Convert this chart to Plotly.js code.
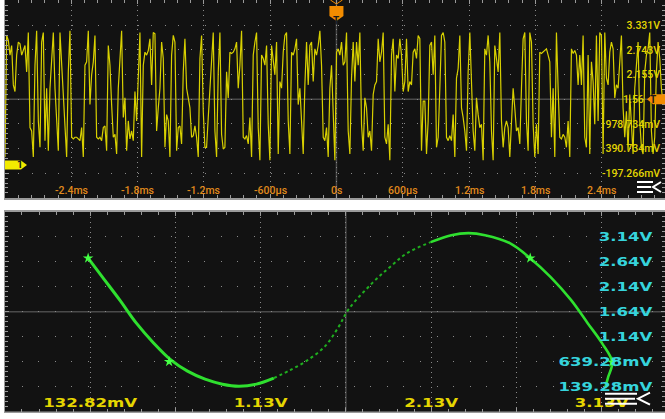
<!DOCTYPE html>
<html><head><meta charset="utf-8">
<script src="https://cdn.plot.ly/plotly-3.0.1.min.js"></script>
<style>html,body{margin:0;padding:0;background:#fff;overflow:hidden}#chart{width:665px;height:419px}</style>
</head><body><div id="chart"></div>
<script>
// ---------- Channel 1 (yellow) time trace, volts, uniformly sampled ----------
const sampleStartUs = -3000;
const sampleStepUs = 15.08;
const ch1VoltsA = [0.19,3.09,2.97,2.62,2.85,1.91,1.75,2.62,2.93,2.89,
2.62,2.77,2.85,2.22,3.16,0.89,0.81,0.19,2.38,3.20,
1.05,0.42,2.93,3.16,0.58,1.83,0.34,1.83,2.62,3.16,
1.83,0.89,0.34,3.16,2.38,1.83,0.89,0.19,2.22,3.20,
0.66,0.62,0.66,0.66,0.62,0.58,0.89,0.19,2.38,2.46,
3.20,1.44,2.15,2.46,3.09,0.66,0.62,0.66,0.58,0.89,
0.93,0.34,2.85,2.38,1.44,0.66,0.73,0.26,1.83,2.46,
3.20,1.13,1.60,0.34,1.05,0.62,0.81,0.58,1.75,1.05,
1.91,3.16,0.19,2.38,2.69,2.62,2.73,3.01,1.91,3.16,
3.13,0.81,1.36,1.83,2.93,2.54,0.42,1.20,1.05,0.19,
2.62,3.09,2.93];
const ch1VoltsB = [0.34,0.89,0.93,0.50,2.22,3.01,1.83,1.60,1.36,0.66,
0.70,0.93,0.66,0.19,2.54,3.09,1.28,0.42,0.42,1.13,
1.83,2.22,3.16,0.81,0.19,2.22,3.16,0.73,0.38,0.42,
2.22,1.60,2.69,2.66,2.69,2.77,2.93,1.83,2.38,3.20,
0.66,0.62,0.70,0.50,1.13,0.19,2.62,2.93,3.16,0.89,
0.11,2.62,2.54,2.38,2.85,0.97,0.11,2.85,2.46,2.15,
2.93,0.26,1.99,1.83,2.69,3.09,3.16,1.05,0.26,2.69,
2.62,2.77,3.01,1.44,1.83,0.89,0.26,1.91,2.93,1.91,
2.85,2.93,1.99,2.77,2.62,2.85,3.20,2.38,0.66,0.58,
0.89,0.19,1.83,2.38,1.05,0.11,2.69,2.77,2.62];
const ch1VoltsC = [2.93,2.38,2.46,3.16,0.81,0.26,2.07,2.93,1.99,2.93,
2.38,3.16,0.97,0.34,1.60,1.36,0.66,0.81,0.34,1.68,
1.91,1.99,3.01,2.46,2.69,3.16,0.66,0.50,0.97,0.11,
2.62,3.01,1.75,2.62,2.54,3.01,2.62,1.75,1.99,3.01,
1.75,1.99,1.91,2.69,2.77,2.54,3.09,3.01,0.34,1.52,
1.52,0.26,1.05,2.85,2.93,2.15,3.09,0.42,0.66,1.83,
3.09,3.16,2.93,0.66,0.58,0.70,0.58,1.20,0.19,2.07,
2.30,3.09,1.36,1.13,0.81,0.34,2.22,3.16,1.83,0.81,
0.34,1.60,1.20,0.89,0.97,0.11,2.77,2.62,3.09,2.46,
0.81,0.11,2.85,2.54,2.22,3.16,1.05,0.42,0.89];
const ch1VoltsD = [1.05,0.89,0.19,1.05,1.83,1.36,0.81,0.89,0.50,1.83,
3.01,3.16,1.05,0.34,3.16,2.93,0.97,0.19,0.97,0.26,
2.69,2.66,2.69,2.73,2.77,2.62,2.46,0.66,1.83,0.19,
3.16,1.83,0.66,0.62,0.73,0.66,0.42,1.05,0.19,2.77,
2.66,2.73,2.62,1.91,2.62,1.91,3.09,0.66,0.42,2.62,
0.26,2.46,1.99,0.97,3.09,1.05,3.16,3.09,0.26,3.16,
2.07,1.91,2.69,2.93,2.77,1.60,1.91,1.83,2.46,3.09,
1.36,0.66,1.28,0.34,1.68,0.81,0.26,1.83,2.30,2.93,
1.05,0.42,0.26,2.22,2.62,2.77,3.16,0.81,0.26,0.66,
2.22,2.93,2.54,1.83,1.44,1.60];

// ---------- Top panel scale ----------
const timeTickUs = [-2400,-1800,-1200,-600,0,600,1200,1800,2400];
const timeTickText = ['-2.4ms','-1.8ms','-1.2ms','-600µs','0s','600µs','1.2ms','1.8ms','2.4ms'];
const ch1TickVolts = [3.330734,2.742734,2.154734,1.566734,0.978734,0.390734,-0.197266];
const ch1TickText = ['3.331V','2.743V','2.155V','','978.734mV','390.734mV','-197.266mV'];
const triggerLabelText = '1.56';   // visible part of the centre readout, the rest is under the T flag
const triggerTimeUs = 0;
const triggerLevelV = 1.566734;
const ch1GroundV = 0;

// ---------- XY (green) curve, volts ----------
const xyDescX = [0.121,0.205,0.307,0.404,0.506,0.608,0.704,0.807,0.909,1.005,1.108,1.210];
const xyDescY = [2.71,2.33,1.87,1.41,1.01,0.67,0.45,0.29,0.19,0.15,0.19,0.31];
const xyRiseX = [1.210,1.306,1.408,1.511,1.589,1.649,1.787,1.890,1.992,2.130];
const xyRiseY = [0.31,0.47,0.67,0.95,1.33,1.69,2.21,2.53,2.81,3.03];
const xyFallX = [2.130,2.251,2.353,2.449,2.594,2.714,2.834,2.954,3.051,3.135,3.195,3.171,3.153];
const xyFallY = [3.03,3.17,3.21,3.17,3.01,2.71,2.33,1.87,1.41,1.01,0.63,0.33,0.11];
const xyMarkX = [0.121,0.596,2.714,3.195];
const xyMarkY = [2.71,0.64,2.71,0.63];
const xyTickX = [0.13282,0.63282,1.13282,1.63282,2.13282,2.63282,3.13282];
const xyTickXText = ['132.82mV','','1.13V','','2.13V','','3.13V'];
const xyTickY = [3.13928,2.63928,2.13928,1.63928,1.13928,0.63928,0.13928];
const xyTickYText = ['3.14V','2.64V','2.14V','1.64V','1.14V','639.28mV','139.28mV'];
const xyCenterX = 1.63282, xyCenterY = 1.63928;

// ---------- build ----------
const ch1Volts = ch1VoltsA.concat(ch1VoltsB, ch1VoltsC, ch1VoltsD);
const ch1TimeUs = ch1Volts.map((_, i) => sampleStartUs + i * sampleStepUs);

const W = 665, H = 419;
const BG = '#121212';
const EDGE = '#9a9a9a';
const GRID = '#8a8a8a';
const ORANGE = '#f28c00';
const TIMECOL = '#e08a1c';

const traces = [
  {x: ch1TimeUs, y: ch1Volts, xaxis: 'x', yaxis: 'y', type: 'scatter', mode: 'lines',
   line: {color: '#d8d000', width: 1.2}, hoverinfo: 'skip'},
  {x: xyDescX, y: xyDescY, xaxis: 'x2', yaxis: 'y2', type: 'scatter', mode: 'lines',
   line: {color: '#2fe02f', width: 3, shape: 'spline'}, hoverinfo: 'skip'},
  {x: xyRiseX, y: xyRiseY, xaxis: 'x2', yaxis: 'y2', type: 'scatter', mode: 'lines',
   line: {color: '#1fae1f', width: 2, dash: 'dot', shape: 'spline'}, hoverinfo: 'skip'},
  {x: xyFallX, y: xyFallY, xaxis: 'x2', yaxis: 'y2', type: 'scatter', mode: 'lines',
   line: {color: '#2fe02f', width: 2.6, shape: 'spline'}, hoverinfo: 'skip'},
  {x: xyMarkX, y: xyMarkY, xaxis: 'x2', yaxis: 'y2', type: 'scatter', mode: 'markers',
   marker: {symbol: 'star', size: 8, color: '#44ff44', line: {width: 0}}, hoverinfo: 'skip'}
];

function axisCommon() {
  return {
    showline: true, linecolor: EDGE, linewidth: 1.5, mirror: 'ticks',
    ticks: 'inside', ticklen: 4, tickcolor: EDGE, tickwidth: 1,
    showgrid: true, gridcolor: GRID, gridwidth: 1,
    zeroline: false, tickmode: 'array', ticklabelposition: 'inside',
    ticklabeloverflow: 'allow', fixedrange: true
  };
}

const topBottomPx = 198, botTopPx = 211.7, botBottomPx = 411.7;
const topPanelBottomPaper = 1 - topBottomPx / H;

// time readouts of the upper panel as annotations sitting just above its lower edge
const timeLabelAnnotations = timeTickUs.map((t, i) => ({
  xref: 'x', yref: 'paper', x: t, y: topPanelBottomPaper, yanchor: 'middle', yshift: 8, showarrow: false,
  text: timeTickText[i], font: {family: 'Roboto', size: 10.5, color: TIMECOL, weight: 500}
}));

const layout = {
  width: W, height: H, margin: {l: 0, r: 0, t: 0, b: 0},
  paper_bgcolor: '#ffffff', plot_bgcolor: BG, showlegend: false,
  xaxis: Object.assign(axisCommon(), {
    domain: [5 / W, 1], range: [-3000, 2974], anchor: 'y', side: 'bottom',
    tickvals: timeTickUs, ticktext: timeTickText, showticklabels: false, griddash: '1px,3.9px',
    minor: {tickmode: 'linear', tick0: 0, dtick: 120, ticks: 'inside', ticklen: 3, tickcolor: EDGE, showgrid: false}
  }),
  yaxis: Object.assign(axisCommon(), {
    domain: [topPanelBottomPaper, 1], range: [-0.789, 3.935], anchor: 'x', side: 'right',
    tickvals: ch1TickVolts, ticktext: ch1TickText, griddash: '1px,12.3px',
    tickfont: {family: 'Roboto', size: 10.5, color: '#e2d400', weight: 500},
    minor: {tickmode: 'linear', tick0: triggerLevelV, dtick: 0.1176, ticks: 'inside', ticklen: 3, tickcolor: EDGE, showgrid: false}
  }),
  xaxis2: Object.assign(axisCommon(), {
    domain: [5 / W, 1], range: [-0.3666, 3.5045], anchor: 'y2', side: 'bottom',
    tickvals: xyTickX, ticktext: xyTickXText, griddash: '1px,4px', ticklabelstandoff: -2,
    tickfont: {family: 'DejaVu Sans', size: 12, color: '#e6d600', weight: 'bold'},
    minor: {tickmode: 'linear', tick0: xyCenterX, dtick: 0.1, ticks: 'inside', ticklen: 3, tickcolor: EDGE, showgrid: false}
  }),
  yaxis2: Object.assign(axisCommon(), {
    domain: [1 - botBottomPx / H, 1 - botTopPx / H], range: [-0.36072, 3.63928], anchor: 'x2', side: 'right',
    tickvals: xyTickY, ticktext: xyTickYText, griddash: '1px,15.6px', ticklabelstandoff: 8,
    tickfont: {family: 'DejaVu Sans', size: 12, color: '#36d4dc', weight: 'bold'},
    minor: {tickmode: 'linear', tick0: xyCenterY, dtick: 0.1, ticks: 'inside', ticklen: 3, tickcolor: EDGE, showgrid: false}
  }),
  shapes: [
    // centre crosshairs
    {type: 'line', xref: 'x', yref: 'y domain', x0: triggerTimeUs, x1: triggerTimeUs, y0: 0, y1: 1, layer: 'below', line: {color: '#4a4a4a', width: 1.5}},
    {type: 'line', xref: 'x domain', yref: 'y', x0: 0, x1: 1, y0: triggerLevelV, y1: triggerLevelV, layer: 'below', line: {color: '#4a4a4a', width: 1.5}},
    {type: 'line', xref: 'x2', yref: 'y2 domain', x0: xyCenterX, x1: xyCenterX, y0: 0, y1: 1, layer: 'below', line: {color: '#4a4a4a', width: 1.5}},
    {type: 'line', xref: 'x2 domain', yref: 'y2', x0: 0, x1: 1, y0: xyCenterY, y1: xyCenterY, layer: 'below', line: {color: '#4a4a4a', width: 1.5}},
    // trigger marker (top)
    {type: 'path', xref: 'x', yref: 'paper', xsizemode: 'pixel', ysizemode: 'pixel', xanchor: triggerTimeUs, yanchor: 1,
     path: 'M-7,-6 L7,-6 L7,-16 L0,-21 L-7,-16 Z', fillcolor: ORANGE, line: {width: 0}, layer: 'above'},
    {type: 'path', xref: 'x', yref: 'paper', xsizemode: 'pixel', ysizemode: 'pixel', xanchor: triggerTimeUs, yanchor: 1,
     path: 'M-6,0 L0,-4 L6,0', line: {color: ORANGE, width: 1}, layer: 'above'},
    // trigger level marker (right)
    {type: 'path', xref: 'paper', yref: 'y', xsizemode: 'pixel', ysizemode: 'pixel', xanchor: 1, yanchor: triggerLevelV,
     path: 'M0,5 L-12,5 L-18,0 L-12,-5 L0,-5 Z', fillcolor: ORANGE, line: {width: 0}, layer: 'above'},
    // channel 1 ground marker (left)
    {type: 'path', xref: 'x domain', yref: 'y', xsizemode: 'pixel', ysizemode: 'pixel', xanchor: 0, yanchor: ch1GroundV,
     path: 'M0,4.5 L16,4.5 L22,0 L16,-4.5 L0,-4.5 Z', fillcolor: '#f2ea00', line: {width: 0}, layer: 'above'},
    // menu icon (top)
    {type: 'path', xref: 'paper', yref: 'paper', xsizemode: 'pixel', ysizemode: 'pixel', xanchor: 1, yanchor: topPanelBottomPaper,
     path: 'M-28,16 L-12,16 M-28,11 L-14,11 M-28,6 L-12,6 M-4,16 L-12,11 L-4,6', line: {color: '#ffffff', width: 2}, layer: 'above'},
    // menu icon (bottom)
    {type: 'path', xref: 'paper', yref: 'paper', xsizemode: 'pixel', ysizemode: 'pixel', xanchor: 1, yanchor: 1 - botBottomPx / H,
     path: 'M-60,18 L-28,18 M-60,13 L-30,13 M-60,8 L-28,8 M-15,19 L-27,13 L-15,7', line: {color: '#ffffff', width: 2}, layer: 'above'}
  ],
  annotations: timeLabelAnnotations.concat([
    {xref: 'x', yref: 'paper', x: triggerTimeUs, y: 1, yshift: -13, showarrow: false, text: '<b>T</b>',
     font: {family: 'Roboto', size: 10, color: '#1a1a1a'}},
    {xref: 'paper', yref: 'y', x: 1, y: triggerLevelV, xshift: -7, showarrow: false, text: '<b>T</b>',
     font: {family: 'Roboto', size: 10, color: '#1a1a1a'}},
    {xref: 'paper', yref: 'y', x: 1, y: triggerLevelV, xshift: -19, xanchor: 'right', showarrow: false, text: triggerLabelText,
     font: {family: 'Roboto', size: 10.5, color: '#e2d400', weight: 500}},
    {xref: 'paper', yref: 'y', x: 5 / W, y: ch1GroundV, xshift: 10, showarrow: false, text: '<b>1</b>',
     font: {family: 'Roboto', size: 10, color: '#1a1a1a'}}
  ])
};

Plotly.newPlot('chart', traces, layout, {staticPlot: true, displayModeBar: false}).then(() => {
  // the scope's XY readout uses a horizontally stretched face
  document.querySelectorAll('g.x2tick text, g.y2tick text').forEach(t => {
    const w = t.getComputedTextLength();
    if (w > 0) {
      t.setAttribute('textLength', (w * 1.38).toFixed(1));
      t.setAttribute('lengthAdjust', 'spacingAndGlyphs');
    }
  });
});
</script>
</body></html>
